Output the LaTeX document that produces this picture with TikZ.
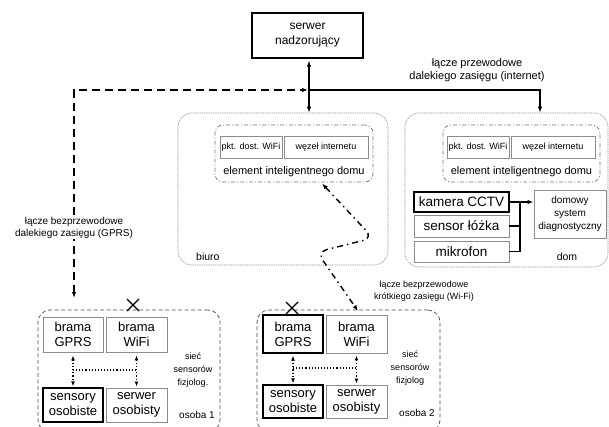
\documentclass[tikz,border=0pt]{standalone}
\usepackage{fontspec}
\setmainfont{Liberation Sans}
\usetikzlibrary{arrows.meta}
\begin{document}
\begin{tikzpicture}[x=1pt,y=-1pt,
  graybox/.style={draw=black!45,line width=0.9pt,inner sep=0pt,align=center},
  blackbox/.style={draw=black,line width=1.3pt,inner sep=0pt,align=center},
  outerc/.style={draw=black!45,line width=0.6pt,dash pattern=on 1pt off 0.8pt,rounded corners=14pt,inner sep=0pt},
  innerc/.style={draw=black!55,line width=0.7pt,dash pattern=on 4pt off 2pt on 1pt off 2pt,rounded corners=8pt,inner sep=0pt},
  personc/.style={draw=black!70,line width=0.7pt,dash pattern=on 4pt off 2.5pt,rounded corners=12pt,inner sep=0pt},
  lbl/.style={align=center,inner sep=1pt},
  tip/.style={-{Latex[length=6pt,width=4.5pt]}},
  dtip/.style={{Latex[length=6pt,width=4.5pt]}-{Latex[length=6pt,width=4.5pt]}},
  sdtip/.style={{Latex[length=5pt,width=4pt]}-{Latex[length=5pt,width=4pt]}},
]
\useasboundingbox (0,0) rectangle (609,427);

% server
\node[draw=black,line width=1.2pt,minimum width=111pt,minimum height=45pt,align=center,font=\fontsize{12}{15}\selectfont] (srv) at (307.5,35.5) {serwer\\nadzorujący};

% biuro
\node[outerc,minimum width=210pt,minimum height=152pt] (biuro) at (283,189) {};
\node[innerc,minimum width=158pt,minimum height=57pt] (el1) at (294,153.5) {};
\node[graybox,minimum width=62pt,minimum height=22pt,font=\fontsize{9}{10}\selectfont] (pkt1) at (251,147) {pkt. dost. WiFi};
\node[graybox,minimum width=84pt,minimum height=22pt,font=\fontsize{9}{10}\selectfont] (wez1) at (326,147) {węzeł internetu};
\node[lbl,font=\fontsize{11}{13}\selectfont] (el1t) at (294,172) {element inteligentnego domu};
\node[lbl,anchor=west,font=\fontsize{10.5}{12}\selectfont] (biurot) at (195,257) {biuro};

% dom
\node[outerc,minimum width=203pt,minimum height=154pt] (dom) at (506.5,190) {};
\node[innerc,minimum width=157pt,minimum height=57pt] (el2) at (521.5,153.5) {};
\node[graybox,minimum width=62pt,minimum height=22pt,font=\fontsize{9}{10}\selectfont] (pkt2) at (478,147) {pkt. dost. WiFi};
\node[graybox,minimum width=84pt,minimum height=22pt,font=\fontsize{9}{10}\selectfont] (wez2) at (553,147) {węzeł internetu};
\node[lbl,font=\fontsize{11}{13}\selectfont] (el2t) at (521.5,172) {element inteligentnego domu};
\node[blackbox,minimum width=95pt,minimum height=20pt,font=\fontsize{13.5}{15}\selectfont] (kam) at (461.5,202) {kamera CCTV};
\node[graybox,minimum width=95pt,minimum height=22pt,font=\fontsize{13.5}{15}\selectfont] (sen) at (461.5,226) {sensor łóżka};
\node[graybox,minimum width=95pt,minimum height=21pt,font=\fontsize{13.5}{15}\selectfont] (mik) at (461.5,251.5) {mikrofon};
\node[graybox,minimum width=72pt,minimum height=48pt,font=\fontsize{10}{13}\selectfont] (dsd) at (570,214) {domowy\\system\\diagnostyczny};
\node[lbl,font=\fontsize{10.5}{12}\selectfont] (domt) at (567,257) {dom};
\coordinate (bus) at (520,202);
\draw[line width=1.2pt] (kam.east) -- (bus);
\draw[line width=1.2pt,tip] (bus) -- (dsd.west |- bus);
\draw[line width=1.2pt] (bus) -- (bus |- mik.east) -- (mik.east);
\draw[line width=1.2pt] (sen.east) -- (bus |- sen.east);

% osoba 1
\node[personc,minimum width=182pt,minimum height=122pt] (os1) at (129,371) {};
\node[graybox,minimum width=60pt,minimum height=35pt,font=\fontsize{13}{15}\selectfont] (g1) at (73,334.5) {brama\\GPRS};
\node[graybox,minimum width=61pt,minimum height=35pt,font=\fontsize{13}{15}\selectfont] (w1) at (136.5,334.5) {brama\\WiFi};
\node[blackbox,minimum width=60pt,minimum height=34pt,font=\fontsize{13}{15}\selectfont] (s1) at (73,405) {sensory\\osobiste};
\node[graybox,minimum width=61pt,minimum height=34pt,font=\fontsize{13}{15}\selectfont] (o1) at (136.5,405) {serwer\\osobisty};
\draw[line width=1.1pt,dotted,sdtip] ([yshift=-3pt]g1.south) -- ([yshift=1pt]s1.north);
\draw[line width=1.1pt,dotted,sdtip] ([yshift=-3pt]w1.south) -- ([yshift=1pt]o1.north);
\draw[line width=1.1pt,dotted] (73,370) -- (136.5,370);
\node[lbl,font=\fontsize{9}{13}\selectfont] (n1) at (193,370) {sieć\\sensorów\\fizjolog.};
\node[lbl,font=\fontsize{10}{12}\selectfont] (p1) at (197,415) {osoba 1};
\draw[line width=1.4pt] (127,299) -- (139,311) (127,311) -- (139,299);

% osoba 2
\node[personc,minimum width=183pt,minimum height=122pt] (os2) at (348.5,371) {};
\node[blackbox,minimum width=60pt,minimum height=38pt,font=\fontsize{13}{15}\selectfont] (g2) at (293,334) {brama\\GPRS};
\node[graybox,minimum width=61pt,minimum height=38pt,font=\fontsize{13}{15}\selectfont] (w2) at (356.5,334) {brama\\WiFi};
\node[blackbox,minimum width=60pt,minimum height=33pt,font=\fontsize{13}{15}\selectfont] (s2) at (293,401.5) {sensory\\osobiste};
\node[graybox,minimum width=61pt,minimum height=33pt,font=\fontsize{13}{15}\selectfont] (o2) at (356.5,401.5) {serwer\\osobisty};
\draw[line width=1.1pt,dotted,sdtip] ([yshift=-2pt]g2.south) -- ([yshift=1pt]s2.north);
\draw[line width=1.1pt,dotted,sdtip] ([yshift=-2pt]w2.south) -- ([yshift=1pt]o2.north);
\draw[line width=1.1pt,dotted] (293,368) -- (356.5,368);
\node[lbl,font=\fontsize{9}{13}\selectfont] (n2) at (410,368) {sieć\\sensorów\\fizjolog};
\node[lbl,font=\fontsize{10}{12}\selectfont] (p2) at (417,413) {osoba 2};
\draw[line width=1.4pt] (286,302) -- (298,314) (286,314) -- (298,302);

% links
\coordinate (J) at (309,90);
\coordinate (K) at (540,90);
\draw[line width=1.5pt,dtip] ([yshift=-2pt]srv.south -| J) -- (J |- biuro.north);
\coordinate (gprsEnd) at (74,298);
\draw[line width=1.5pt,dash pattern=on 8pt off 5pt,dtip] (gprsEnd) -- (74,90) -- ([xshift=-1pt]J);
\node[lbl,fill=white,font=\fontsize{10}{12}\selectfont] (gprsl) at (74,227.5) {łącze bezprzewodowe\\dalekiego zasięgu (GPRS)};
\draw[line width=1.1pt,tip] (J) -- (K) -- (K |- dom.north);
\node[lbl,font=\fontsize{11}{13}\selectfont] (netl) at (477,70) {łącze przewodowe\\dalekiego zasięgu (internet)};

\coordinate (wifiEnd) at (358,311);
\draw[line width=1.4pt,dash pattern=on 6pt off 4pt on 1.5pt off 4pt,dtip,rounded corners=10pt] (322,183.5) -- (373,238) -- (317,252) -- (wifiEnd);
\node[lbl,font=\fontsize{9}{12}\selectfont] (wifil) at (424,291) {łącze bezprzewodowe\\krótkiego zasięgu (Wi-Fi)};
\end{tikzpicture}
\end{document}
